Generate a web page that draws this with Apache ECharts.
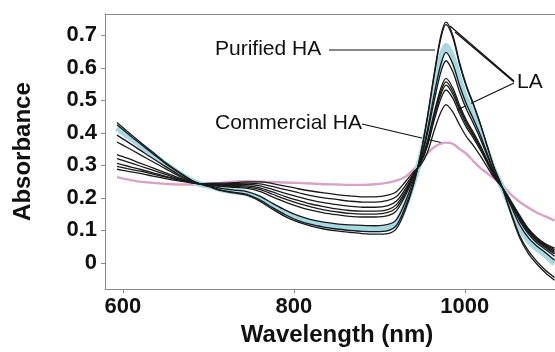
<!DOCTYPE html>
<html>
<head>
<meta charset="utf-8">
<script src="https://cdn.jsdelivr.net/npm/echarts@6/dist/echarts.min.js"></script>
<style>html,body{margin:0;padding:0;background:#fff}#c{width:555px;height:352px}</style>
</head>
<body>
<div id="c"></div>
<script>
// Wavelength sample points (nm)
const wavelengths = [593,605,620,635,650,665,680,690,700,715,730,745,760,775,790,805,820,835,850,865,880,895,910,920,930,940,948,956,964,972,978,986,994,1002,1010,1018,1026,1034,1044,1054,1064,1074,1084,1094,1105];

// LA spectra (black)
const laA = [.432,.405,.372,.340,.308,.280,.255,.243, .235,.222,.215,.208,.190,.165,.142,.125,.113,.104,.098,.094,.090,.088,.090,.105,.160, .24, .33,.445,.58,.70,.741,.70,.615,.545,.49,.43,.362,.295, .231,.15,.078,.03,-.003,-.03,-.054];
const laB = [.425,.399,.367,.336,.305,.278,.254,.243, .236,.224,.217,.211,.194,.170,.148,.130,.118,.110,.104,.100,.097,.096,.099,.115,.170, .245, .328,.442,.574,.692,.733,.693,.609,.54,.486,.427,.36,.294, .231,.155,.085,.038,.005,-.022,-.045];
const laC = [.393,.373,.347,.321,.296,.272,.252,.243, .238,.229,.224,.219,.205,.183,.162,.145,.133,.125,.120,.117,.115,.114,.118,.133,.185, .255, .318,.406,.516,.612,.648,.612,.545,.488,.443,.394,.338,.283, .231,.175,.118,.078,.052,.032,.008];
const laD = [.372,.355,.333,.311,.289,.268,.251,.243, .240,.235,.232,.229,.220,.203,.187,.173,.162,.154,.148,.143,.141,.141,.145,.160,.205, .262, .315,.395,.498,.588,.622,.588,.525,.472,.429,.383,.331,.28, .231,.18,.13,.09,.062,.042,.02];
const laE = [.333,.322,.307,.292,.277,.262,.249,.243, .241,.237,.235,.233,.226,.211,.196,.183,.172,.163,.157,.152,.150,.150,.155,.170,.212, .268, .31,.372,.461,.538,.568,.538,.484,.438,.402,.362,.317,.273, .231,.182,.135,.095,.067,.047,.027];
const laF = [.321,.311,.298,.285,.272,.259,.248,.243, .242,.239,.238,.237,.231,.218,.204,.192,.181,.173,.166,.161,.159,.159,.164,.179,.218, .27, .308,.368,.454,.528,.557,.528,.476,.432,.396,.358,.314,.272, .231,.184,.138,.098,.07,.05,.031];
const laG = [.306,.298,.288,.277,.266,.256,.247,.243, .243,.241,.241,.241,.237,.226,.214,.203,.193,.185,.179,.174,.171,.171,.176,.190,.226, .272, .307,.363,.447,.519,.547,.519,.469,.425,.391,.354,.312,.27, .231,.186,.141,.101,.073,.053,.035];
const laH = [.297,.290,.282,.273,.264,.255,.247,.243, .244,.243,.244,.245,.243,.235,.225,.216,.207,.200,.195,.190,.187,.187,.192,.204,.236, .275, .305,.357,.437,.506,.532,.506,.458,.416,.384,.348,.308,.268, .231,.188,.144,.104,.076,.056,.04];
const laI = [.288,.282,.275,.267,.259,.252,.246,.243, .245,.245,.247,.249,.249,.244,.236,.228,.221,.215,.210,.206,.203,.203,.208,.219,.248, .28, .30,.338,.406,.464,.487,.464,.424,.388,.361,.33,.296,.263, .231,.19,.147,.107,.079,.059,.045];

// Purified HA (light blue)
const purifiedHA = [.415,.392,.362,.333,.303,.276,.253,.242, .237,.226,.220,.214,.198,.175,.153,.136,.124,.116,.110,.107,.104,.103,.106,.122,.175, .25, .32,.414,.53,.630,.668,.630,.56,.50,.453,.401,.343,.286, .231,.17,.11,.07,.045,.025,-.003];

// Commercial HA (pink)
const commercialHA = [.264,.257,.250,.246,.243,.241,.241,.241, .242,.246,.250,.251,.250,.249,.247,.246,.244,.242,.241,.240,.240,.242,.247,.253,.264, .287, .31,.336,.356,.367,.370,.366,.35,.335,.313,.292,.276,.26, .238,.21,.188,.17,.155,.143,.13];

const xTicks = [600, 800, 1000];
const yTicks = [0, 0.1, 0.2, 0.3, 0.4, 0.5, 0.6, 0.7];

const FONT = "'Liberation Sans', Arial, Helvetica, sans-serif";
const AXIS = '#8a8a8a';
const pairs = vals => wavelengths.map((w, i) => [w, vals[i]]);

const blackSets = [laA, laB, laC, laD, laE, laF, laG, laH, laI];

const series = [];
series.push({type:'line', name:'Commercial HA', data: pairs(commercialHA), smooth:0.3, symbol:'none',
  lineStyle:{color:'#d9a2c6', width:2.4}, z:2});
series.push({type:'line', name:'Purified HA', data: pairs(purifiedHA), smooth:0.3, symbol:'none',
  lineStyle:{color:'#a6d9e2', width:6}, z:3});
blackSets.forEach((s, i) => series.push({type:'line', name:'LA'+i, data: pairs(s), smooth:0.3, symbol:'none',
  lineStyle:{color:'#1a1a1a', width:1.3}, z:4}));

const chart = echarts.init(document.getElementById('c'), null, {renderer:'canvas'});
chart.setOption({
  animation:false,
  backgroundColor:'#fff',
  grid:{left:105, top:14, right:0, bottom:56, show:false},
  xAxis:[{type:'value', min:579, max:1105.5, position:'bottom',
    axisLine:{show:true, onZero:false, lineStyle:{color:AXIS, width:1}},
    axisTick:{show:true, inside:false, length:4, customValues:xTicks, lineStyle:{color:AXIS}},
    axisLabel:{customValues:xTicks, color:'#111', fontFamily:FONT, fontWeight:'bold', fontSize:22, margin:7,
      formatter: v => String(Math.round(v))},
    splitLine:{show:false},
    name:'Wavelength (nm)', nameLocation:'middle', nameGap:30,
    nameTextStyle:{color:'#111', fontFamily:FONT, fontWeight:'bold', fontSize:24, padding:[0,0,0,14]}
  },{type:'value', min:579, max:1105.5, position:'top',
    axisLine:{show:true, onZero:false, lineStyle:{color:AXIS, width:1}},
    axisTick:{show:false}, axisLabel:{show:false}, splitLine:{show:false}
  }],
  yAxis:{type:'value', min:-0.081, max:0.766,
    axisLine:{show:true, onZero:false, lineStyle:{color:AXIS, width:1}},
    axisTick:{show:true, length:4, customValues:yTicks, lineStyle:{color:AXIS}},
    axisLabel:{customValues:yTicks, color:'#111', fontFamily:FONT, fontWeight:'bold', fontSize:22, margin:8,
      formatter: v => (Math.abs(v) < 1e-9 ? '0' : v.toFixed(1))},
    splitLine:{show:false},
    name:'Absorbance', nameLocation:'middle', nameGap:70,
    nameTextStyle:{color:'#111', fontFamily:FONT, fontWeight:'bold', fontSize:24}
  },
  graphic:[
    {type:'text', left:215, top:39, style:{text:'Purified HA', font:'21px ' + FONT, fill:'#111'}},
    {type:'line', shape:{x1:329, y1:50, x2:435, y2:50}, style:{stroke:'#111', lineWidth:1.2}},
    {type:'text', left:215, top:113, style:{text:'Commercial HA', font:'21px ' + FONT, fill:'#111'}},
    {type:'line', shape:{x1:362, y1:124, x2:443, y2:143}, style:{stroke:'#111', lineWidth:1.2}},
    {type:'text', left:517, top:72, style:{text:'LA', font:'21px ' + FONT, fill:'#111'}},
    {type:'line', shape:{x1:450, y1:26, x2:514, y2:81}, style:{stroke:'#111', lineWidth:1.2}},
    {type:'line', shape:{x1:455, y1:32, x2:514, y2:82}, style:{stroke:'#111', lineWidth:1.2}},
    {type:'line', shape:{x1:457, y1:110, x2:514, y2:83}, style:{stroke:'#111', lineWidth:1.2}}
  ],
  series: series
});
</script>
</body>
</html>
